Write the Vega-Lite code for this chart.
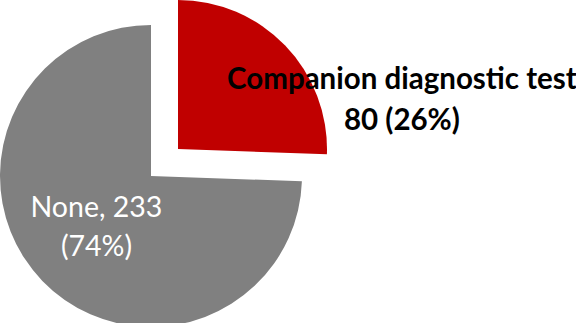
{
  "$schema": "https://vega.github.io/schema/vega-lite/v6.json",
  "autosize": "none",
  "width": 302,
  "height": 302,
  "padding": {"left": 0, "top": 25, "right": 274, "bottom": 0},
  "background": "white",
  "config": {"view": {"stroke": null}},
  "data": {
    "values": [
      {"category": "Companion diagnostic test", "count": 80, "label": "Companion diagnostic test\n80 (26%)"},
      {"category": "None", "count": 233, "label": "None, 233\n(74%)"}
    ]
  },
  "encoding": {
    "theta": {"field": "count", "type": "quantitative", "stack": true},
    "order": {"field": "category", "type": "nominal", "sort": "ascending"}
  },
  "layer": [
    {
      "mark": {"type": "arc", "radius": 151, "stroke": null},
      "encoding": {
        "color": {"field": "category", "type": "nominal", "scale": {"domain": ["Companion diagnostic test", "None"], "range": ["#C00000", "#808080"]}, "legend": null},
        "fillOpacity": {"condition": {"test": "datum.category === 'None'", "value": 1}, "value": 0}
      }
    },
    {
      "mark": {"type": "arc", "radius": 149, "xOffset": 27, "yOffset": -27, "stroke": null},
      "encoding": {
        "color": {"field": "category", "type": "nominal", "scale": {"domain": ["Companion diagnostic test", "None"], "range": ["#C00000", "#808080"]}, "legend": null},
        "fillOpacity": {"condition": {"test": "datum.category === 'None'", "value": 0}, "value": 1}
      }
    },
    {
      "mark": {"type": "text", "radius": 200, "dx": 107, "dy": 52, "font": "Lato", "fontSize": 29.5, "fontWeight": "bold", "lineBreak": "\n", "lineHeight": 41, "align": "center", "baseline": "alphabetic", "color": "black"},
      "encoding": {
        "text": {"field": "label"},
        "opacity": {"condition": {"test": "datum.category === 'None'", "value": 0}, "value": 1}
      }
    },
    {
      "mark": {"type": "text", "radius": 80, "dx": 3, "dy": -15, "font": "Lato", "fontSize": 28.5, "lineBreak": "\n", "lineHeight": 39, "align": "center", "baseline": "alphabetic", "color": "white"},
      "encoding": {
        "text": {"field": "label"},
        "opacity": {"condition": {"test": "datum.category === 'None'", "value": 1}, "value": 0}
      }
    }
  ]
}
